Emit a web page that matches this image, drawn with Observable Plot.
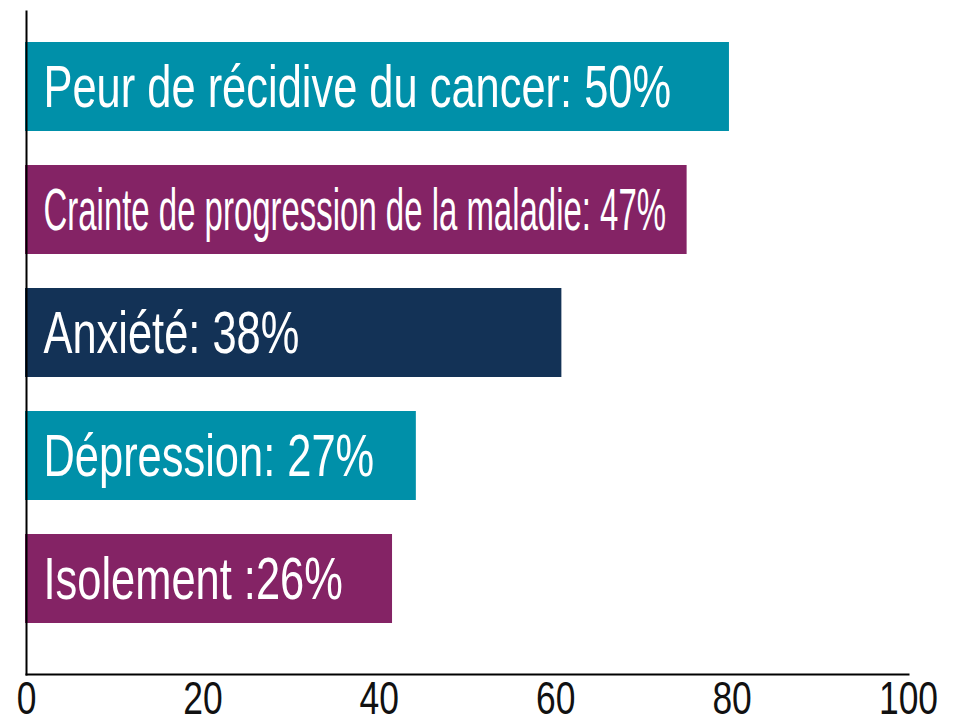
<!DOCTYPE html>
<html>
<head>
<meta charset="utf-8">
<script src="https://cdn.jsdelivr.net/npm/d3@7"></script>
<script src="https://cdn.jsdelivr.net/npm/@observablehq/plot@0.6"></script>
<style>
  html, body { margin: 0; padding: 0; background: #fff; }
  #chart svg { display: block; }
</style>
</head>
<body>
<div id="chart"></div>
<script>
// Data
const categories = [
  "Peur de récidive du cancer",
  "Crainte de progression de la maladie",
  "Anxiété",
  "Dépression",
  "Isolement"
];
const labels = [
  "Peur de récidive du cancer: 50%",
  "Crainte de progression de la maladie: 47%",
  "Anxiété: 38%",
  "Dépression: 27%",
  "Isolement :26%"
];
const barValues = [79.7, 74.9, 60.7, 44.2, 41.5];
const barColors = ["#0090a9", "#842365", "#133256", "#0090a9", "#842365"];
const xTicks = [0, 20, 40, 60, 80, 100];

const rows = categories.map((c, i) => ({category: c, value: barValues[i], label: labels[i]}));

const plot = Plot.plot({
  width: 964,
  height: 726,
  marginTop: 11,
  marginBottom: 52,
  marginLeft: 26,
  marginRight: 56,
  style: {fontFamily: "'Liberation Sans', Arial, sans-serif", background: "#fff", color: "#111"},
  x: {domain: [0, 100], ticks: xTicks, label: null},
  y: {domain: categories, paddingInner: 0.28, paddingOuter: 0.335, align: 0.376, axis: null},
  color: {domain: categories, range: barColors},
  marks: [
    Plot.barX(rows, {x: "value", y: "category", fill: "category", insetLeft: -1}),
    Plot.text(rows, {
      x: 0, y: "category", text: "label", fill: "#fff",
      textAnchor: "start", lineAnchor: "middle", dx: 17, dy: 1,
      fontSize: 60
    }),
    Plot.axisX({ticks: xTicks, tickSize: 0, tickPadding: 7, fontSize: 46, fill: "#111", anchor: "bottom", label: null}),
    Plot.frame({anchor: "bottom", stroke: "#000", strokeWidth: 2}),
    Plot.frame({anchor: "left", stroke: "#000", strokeWidth: 2})
  ]
});

document.getElementById("chart").appendChild(plot);

// Condensed-type look: squeeze glyphs horizontally, shrinking long labels to fit their bar
function squeeze(el, s) {
  const x = parseFloat(el.getAttribute("x") || 0);
  const t = el.getAttribute("transform") || "";
  el.setAttribute("transform", `${t} translate(${x},0) scale(${s},1) translate(${-x},0)`);
}
const xs = plot.scale("x");
const barTexts = plot.querySelectorAll('g[aria-label="text"] text');
barTexts.forEach((el, i) => {
  const natural = el.getComputedTextLength();
  const barW = xs.apply(barValues[i]) - xs.apply(0);
  const s = Math.min(0.724, (barW - 38) / natural);
  squeeze(el, s);
});
plot.querySelectorAll('g[aria-label="x-axis tick label"] text').forEach(el => squeeze(el, 0.77));
</script>
</body>
</html>
